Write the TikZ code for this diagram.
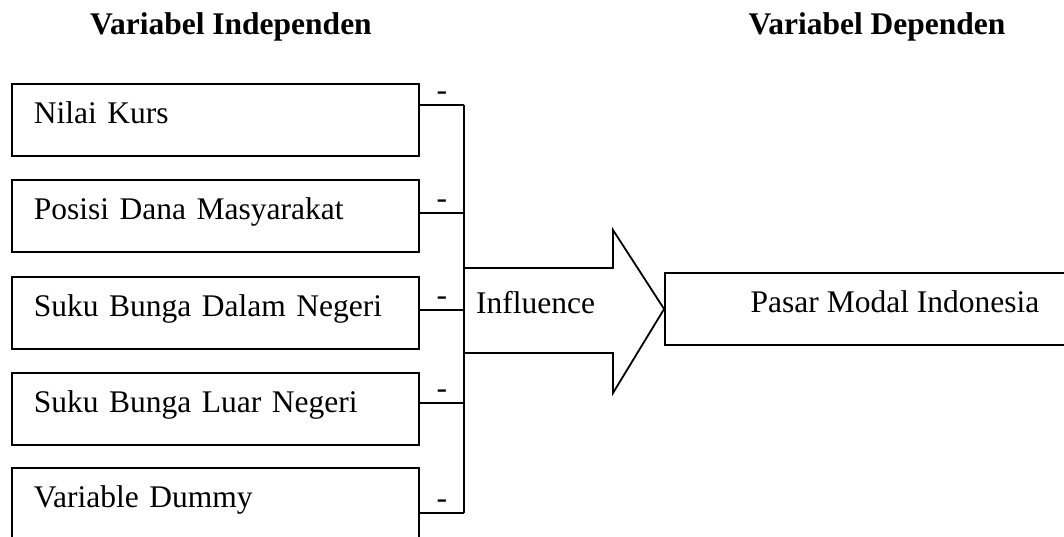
\documentclass[tikz,border=0pt]{standalone}
\usepackage{fontspec}
\setmainfont{Liberation Serif}
\usepackage{tikz}

\tikzset{
    indep/.style={draw, anchor=north west, text width=363pt, inner xsep=22pt, inner ysep=0pt,
        text height=40pt, text depth=32pt},
    dep/.style={draw, minimum width=460pt, inner ysep=0pt, text height=39pt, text depth=33pt},
    heading/.style={font=\fontsize{31.5}{38}\selectfont\bfseries, anchor=base},
    minus/.style={midway, above=4pt, inner sep=0pt}
}

\begin{document}
\begin{tikzpicture}[x=1pt, y=-1pt, line width=1.8pt, font=\fontsize{31.5}{38}\selectfont]
        \useasboundingbox (0,0) rectangle (1064,537);
        \node[heading] (hind) at (231,35) {Variabel Independen};
        \node[heading] (hdep) at (877,35) {Variabel Dependen};
        \node[indep] (kurs) at (11,83) {Nilai Kurs};
        \node[indep] (dana) at (11,179) {Posisi Dana Masyarakat};
        \node[indep] (sbdn) at (11,276) {Suku Bunga Dalam Negeri};
        \node[indep] (sbln) at (11,372) {Suku Bunga Luar Negeri};
        \node[indep] (dummy) at (11,467) {Variable Dummy};
        \node[dep] (pmi) at (895,309) {Pasar Modal Indonesia};
        \coordinate (j1) at (464,105);
        \coordinate (j2) at (464,213);
        \coordinate (j3) at (464,310);
        \coordinate (j4) at (464,403);
        \coordinate (j5) at (464,513);
        \draw (kurs.east |- j1) -- (j1) node[minus] {-};
        \draw (dana.east |- j2) -- (j2) node[minus] {-};
        \draw (sbdn.east |- j3) -- (j3) node[minus] {-};
        \draw (sbln.east |- j4) -- (j4) node[minus] {-};
        \draw (dummy.east |- j5) -- (j5) node[minus] {-};
        \draw (j1) -- (j5);
        % big arrow
        \draw (464,268) -- (613,268) -- (613,230) -- (pmi.west) -- (613,393) -- (613,353) -- (464,353);
        \node[anchor=base west] (infl) at (472,313) {Influence};
    \end{tikzpicture}
\end{document}
